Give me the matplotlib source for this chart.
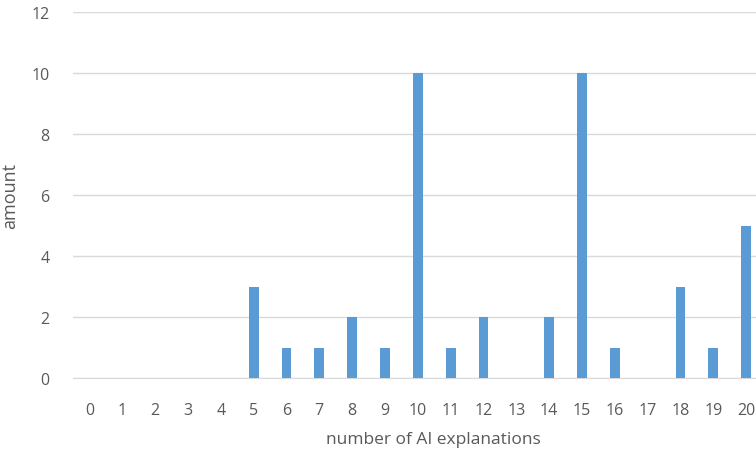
import matplotlib.pyplot as plt
import numpy as np

plt.rcParams['font.family'] = ['Open Sans', 'DejaVu Sans']

categories = [str(i) for i in range(21)]
amounts = [0, 0, 0, 0, 0, 3, 1, 1, 2, 1, 10, 1, 2, 0, 2, 10, 1, 0, 3, 1, 5]

grey = '#595959'

fig = plt.figure(figsize=(7.56, 4.52), dpi=100)
ax = fig.add_axes([73/756, 73/452, 1 - 73/756, (379 - 13)/452])

x = np.arange(len(categories))
ax.bar(x, amounts, width=0.3, color='#5B9BD5', zorder=3)

ax.set_xlim(-0.5, 20.3)
ax.set_ylim(0, 12)
ax.set_yticks(range(0, 13, 2))
ax.set_xticks(x)
ax.set_xticklabels(categories)
ax.yaxis.grid(True, color='#D9D9D9', linewidth=1, zorder=0)
for s in ['top', 'right', 'left']:
    ax.spines[s].set_visible(False)
ax.spines['bottom'].set_color('#D9D9D9')
ax.tick_params(axis='both', length=0, labelsize=11.5, labelcolor=grey)
ax.tick_params(axis='x', pad=17)
ax.tick_params(axis='y', pad=17)

ax.set_xlabel('number of AI explanations', fontsize=12.5, color=grey)
ax.xaxis.set_label_coords(0.527, -0.145)
ax.set_ylabel('amount', fontsize=13, color=grey, labelpad=9)

fig.savefig('out.png', dpi=100)
